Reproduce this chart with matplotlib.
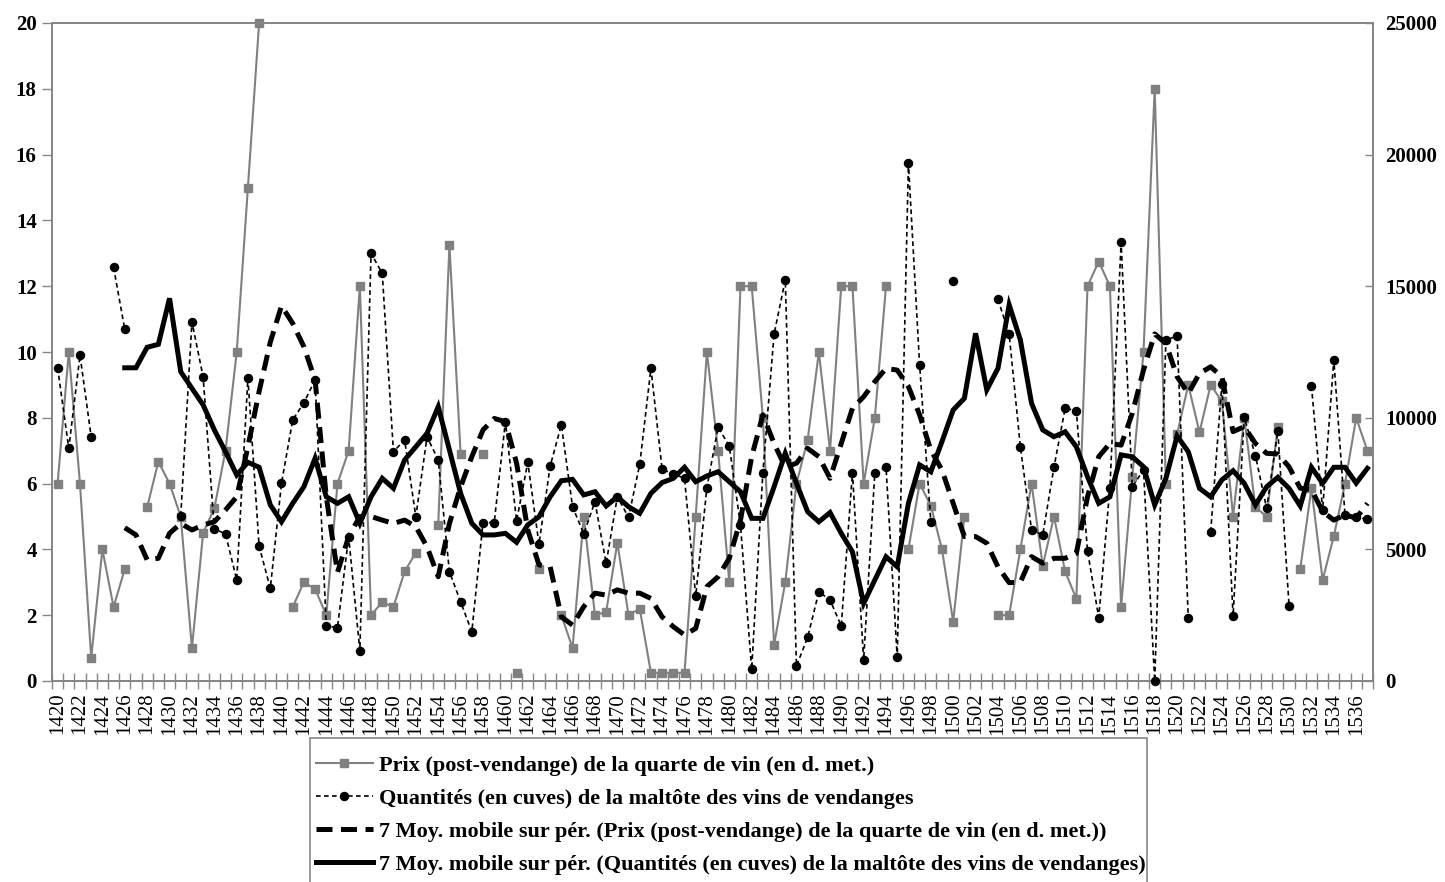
import numpy as np
import matplotlib
matplotlib.use("Agg")
import matplotlib.pyplot as plt
from matplotlib.patches import Rectangle

nan = np.nan

# years of the series (category axis), one entry per year 1420-1537
YEARS = list(range(1420, 1538))

# price of the "quarte" of wine after the harvest (d. met., left axis)
PRIX = [
    6.0, 10.0, 6.0, 0.7, 4.0, 2.25, 3.4, nan, 5.28, 6.67,        # 1420-1429
    6.0, 5.0, 1.0, 4.5, 5.25, 7.0, 10.0, 15.0, 20.0, nan,        # 1430-1439
    nan, 2.25, 3.0, 2.8, 2.0, 6.0, 7.0, 12.0, 2.0, 2.4,          # 1440-1449
    2.25, 3.33, 3.9, nan, 4.75, 13.25, 6.9, nan, 6.9, nan,       # 1450-1459
    nan, 0.25, nan, 3.4, nan, 2.0, 1.0, 5.0, 2.0, 2.1,           # 1460-1469
    4.2, 2.0, 2.2, 0.25, 0.25, 0.25, 0.25, 5.0, 10.0, 7.0,       # 1470-1479
    3.0, 12.0, 12.0, 8.0, 1.1, 3.0, 6.0, 7.33, 10.0, 7.0,        # 1480-1489
    12.0, 12.0, 6.0, 8.0, 12.0, nan, 4.0, 6.0, 5.33, 4.0,        # 1490-1499
    1.8, 5.0, nan, nan, 2.0, 2.0, 4.0, 6.0, 3.5, 5.0,            # 1500-1509
    3.33, 2.5, 12.0, 12.75, 12.0, 2.25, 6.2, 10.0, 18.0, 6.0,    # 1510-1519
    7.5, 9.0, 7.56, 9.0, 8.5, 5.0, 8.0, 5.28, 5.0, 7.73,         # 1520-1529
    nan, 3.4, 5.86, 3.07, 4.4, 6.0, 8.0, 7.0,                    # 1530-1537
]

# quantities taxed by the maltote on harvest wines (cuves, right axis)
QUANT = [
    11900, 8840, 12380, 9280, nan, 15720, 13360, nan, nan, nan,          # 1420-1429
    nan, 6280, 13650, 11550, 5780, 5590, 3840, 11500, 5130, 3520,        # 1430-1439
    7510, 9920, 10570, 11440, 2090, 2030, 5480, 1150, 16250, 15490,      # 1440-1449
    8710, 9160, 6240, 9280, 8400, 4150, 3010, 1870, 6020, 6020,          # 1450-1459
    9850, 6080, 8310, 5200, 8170, 9730, 6620, 5590, 6810, 4470,          # 1460-1469
    7000, 6220, 8230, 11880, 8040, 7870, 7700, 3230, 7350, 9640,         # 1470-1479
    8930, 5930, 440, 7920, 13180, 15240, 570, 1660, 3390, 3080,          # 1480-1489
    2090, 7920, 800, 7920, 8120, 900, 19680, 12010, 6050, nan,           # 1490-1499
    15200, nan, nan, nan, 14500, 13170, 8900, 5740, 5550, 8120,          # 1500-1509
    10360, 10270, 4940, 2410, 7350, 16670, 7380, 8020, 0, 12950,         # 1510-1519
    13110, 2380, nan, 5670, 11290, 2470, 10020, 8560, 6560, 9500,        # 1520-1529
    2860, nan, 11210, 6500, 12200, 6310, 6240, 6140,                     # 1530-1537
]

# 7-period moving averages
PRIX_MM7 = [
    nan, nan, nan, nan, nan, nan, 4.66, 4.44, 3.68, 3.73,                # 1420-1429
    4.49, 4.79, 4.59, 4.74, 4.84, 5.2, 5.6, 7.12, 8.8, 10.3,             # 1430-1439
    11.4, 10.87, 10.16, 9.15, 5.6, 3.3, 4.39, 5.0, 5.0, 4.89,            # 1440-1449
    4.79, 4.89, 4.69, 4.08, 3.17, 4.79, 5.9, 6.82, 7.63, 7.98,           # 1450-1459
    7.88, 6.62, 4.59, 3.53, 3.47, 1.95, 1.7, 2.26, 2.67, 2.61,           # 1460-1469
    2.77, 2.67, 2.67, 2.51, 1.95, 1.65, 1.4, 1.6, 2.87, 3.17,            # 1470-1479
    3.73, 4.89, 6.82, 8.09, 7.22, 6.5, 6.62, 7.07, 6.82, 6.16,           # 1480-1489
    7.22, 8.29, 8.64, 9.1, 9.5, 9.45, 8.95, 8.09, 7.02, 6.41,            # 1490-1499
    5.4, 4.39, 4.39, 4.19, 3.47, 2.99, 3.0, 3.78, 3.58, 3.73,            # 1500-1509
    3.73, 3.88, 5.6, 6.82, 7.22, 7.17, 8.14, 9.45, 10.55, 10.26,         # 1510-1519
    9.25, 8.74, 9.35, 9.55, 9.25, 7.58, 7.73, 7.22, 6.92, 6.9,           # 1520-1529
    6.51, 5.86, 5.82, 5.15, 4.89, 5.05, 4.95, 5.4,                       # 1530-1537
]

QUANT_MM7 = [
    nan, nan, nan, nan, nan, nan, 11900, 11900, 12680, 12790,            # 1420-1429
    14540, 11750, 11120, 10490, 9540, 8710, 7830, 8310, 8120, 6690,      # 1430-1439
    6050, 6750, 7380, 8460, 7000, 6750, 7000, 5990, 7000, 7700,          # 1440-1449
    7320, 8400, 8900, 9410, 10420, 8780, 7130, 5990, 5550, 5550,         # 1450-1459
    5610, 5270, 5930, 6240, 7000, 7610, 7660, 7070, 7190, 6650,          # 1460-1469
    7000, 6620, 6370, 7130, 7540, 7700, 8120, 7570, 7790, 7950,          # 1470-1479
    7570, 7190, 6180, 6180, 7380, 8650, 7510, 6430, 6050, 6400,          # 1480-1489
    5610, 4910, 2950, 3840, 4720, 4340, 6750, 8210, 7950, 9100,          # 1490-1499
    10300, 10740, 13210, 11060, 11880, 14290, 12960, 10550, 9540, 9280,  # 1500-1509
    9470, 8900, 7760, 6750, 7000, 8590, 8520, 8140, 6690, 7700,          # 1510-1519
    9310, 8710, 7320, 7000, 7640, 7990, 7510, 6690, 7380, 7740,          # 1520-1529
    7320, 6650, 8120, 7510, 8120, 8120, 7520, 8080,                      # 1530-1537
]

LABELS = [
    "Prix (post-vendange) de la quarte de vin (en d. met.)",
    "Quantités (en cuves) de la maltôte des vins de vendanges",
    "7 Moy. mobile sur pér. (Prix (post-vendange) de la quarte de vin (en d. met.))",
    "7 Moy. mobile sur pér. (Quantités (en cuves) de la maltôte des vins de vendanges)",
]

GREY = "#808080"
AXIS = "#868686"
SERIF = "Liberation Serif"

W, H = 1445, 882
fig = plt.figure(figsize=(W / 100, H / 100), dpi=100)
ax = fig.add_axes([52 / W, 1 - 681 / H, (1373 - 52) / W, (681 - 23) / H])
ax2 = ax.twinx()

x = np.arange(len(YEARS))

# left axis: price and its moving average
l1, = ax.plot(x, PRIX, color=GREY, lw=1.5, marker="s", ms=6.4, mfc=GREY, mec=GREY,
              clip_on=False, zorder=3)
l3, = ax.plot(x, PRIX_MM7, color="black", lw=3.6, dashes=(3.2, 1.7),
              dash_capstyle="butt", zorder=4)

# right axis: quantities and their moving average
l2, = ax2.plot(x, QUANT, color="black", lw=1.2, dashes=(2.8, 2.0), marker="o", ms=5.8,
               clip_on=False, zorder=3)
l4, = ax2.plot(x, QUANT_MM7, color="black", lw=3.6, solid_joinstyle="miter", zorder=4)

ax.set_xlim(-0.5, len(YEARS) - 0.5)
ax.set_ylim(0, 20)
ax2.set_ylim(0, 25000)

ax.set_yticks(range(0, 21, 2))
ax2.set_yticks(range(0, 25001, 5000))

ax.set_xticks(x[::2])
ax.set_xticklabels([str(y) for y in YEARS[::2]], rotation=90, family=SERIF, fontsize=15)
ax.set_xticks(np.arange(-0.5, len(YEARS), 1), minor=True)
ax.tick_params(axis="x", which="major", length=0, pad=8.5)
ax.tick_params(axis="x", which="minor", direction="inout", length=11, width=1, color=AXIS)
ax.tick_params(axis="y", direction="out", length=7, width=1, color=AXIS, pad=4)
ax2.tick_params(axis="y", direction="in", length=6, width=1, color=AXIS, pad=9)

for lab in ax.get_yticklabels() + ax2.get_yticklabels():
    lab.set_family(SERIF)
    lab.set_fontweight("bold")
    lab.set_fontsize(15)

for a in (ax, ax2):
    for sp in a.spines.values():
        sp.set_color(AXIS)
        sp.set_linewidth(1.3)

# legend box, running off the bottom edge of the figure
fig.patches.append(Rectangle((310 / W, -0.02), (1147 - 310) / W, (882 - 738) / H + 0.02,
                             transform=fig.transFigure, facecolor="white",
                             edgecolor=AXIS, lw=1.2, zorder=1))
fig.legend([l1, l2, l3, l4], LABELS, loc="upper left",
           bbox_to_anchor=(316 / W, 1 - 755 / H), bbox_transform=fig.transFigure,
           frameon=False, prop={"family": SERIF, "weight": "bold", "size": 16},
           handlelength=2.55, handletextpad=0.28, labelspacing=0.56,
           borderpad=0, borderaxespad=0, numpoints=1)

fig.savefig("out.png", dpi=100)
